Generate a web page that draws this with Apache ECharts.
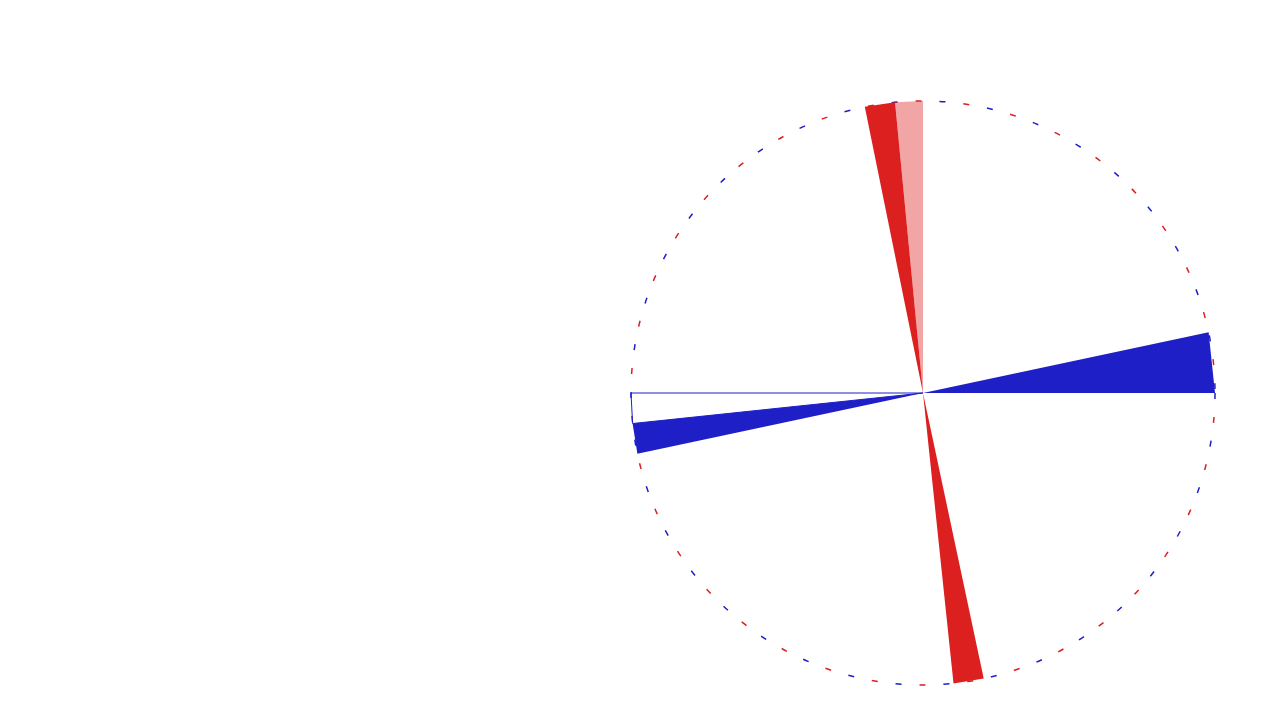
<!DOCTYPE html>
<html>
<head>
<meta charset="utf-8">
<title>polar wedges</title>
<script src="https://cdn.jsdelivr.net/npm/echarts@6/dist/echarts.min.js"></script>
<style>
    html, body { margin: 0; padding: 0; background: #fff; }
    #chart { width: 1279px; height: 720px; }
</style>
</head>
<body>
<div id="chart"></div>
<script>
// wedge angles in degrees (0 = east, counter-clockwise), [start, end]
const redWedges = [[95.5, 101.5], [276, 282]];
const blueWedges = [[0, 12], [186, 192]];
const redSpeckle = [[90, 95.5]];
const blueOutline = [[180, 186]];

const RED = '#dc1f1f';
const BLUE = '#1f1fc8';

document.addEventListener('DOMContentLoaded', function () {
    initializeChart();
    addResizeListener();
});

function initializeChart() {
    const chartDom = document.getElementById('chart');
    const chart = echarts.init(chartDom);
    chart.setOption(getChartOptions());
    window.wedgeChart = chart;
}

// draw a wedge from the pole out to the rim
function wedgeRenderer(fill, stroke, opacity) {
    return function (params, api) {
        const a1 = api.value(0);
        const a2 = api.value(1);
        const c = api.coord([0, a1]);
        const p1 = api.coord([1, a1]);
        const p2 = api.coord([1, a2]);
        return {
            type: 'polygon',
            shape: { points: [c, p1, p2] },
            style: {
                fill: fill,
                stroke: stroke,
                lineWidth: stroke ? 1 : 0,
                opacity: opacity
            }
        };
    };
}

function polarAxes(index, color, offset) {
    return {
        angleAxis: {
            polarIndex: index,
            type: 'value',
            min: 0,
            max: 360,
            startAngle: 0,
            clockwise: false,
            axisLine: {
                show: true,
                lineStyle: { color: color, width: 1.5, type: [6, 42], dashOffset: offset }
            },
            axisTick: { show: false },
            axisLabel: { show: false },
            splitLine: { show: false }
        },
        radiusAxis: {
            polarIndex: index,
            type: 'value',
            min: 0,
            max: 1,
            axisLine: { show: false },
            axisTick: { show: false },
            axisLabel: { show: false },
            splitLine: { show: false }
        }
    };
}

function getChartOptions() {
    const blueAxes = polarAxes(0, BLUE, 0);
    const redAxes = polarAxes(1, RED, 24);
    return {
        animation: false,
        polar: [
            { center: [923, 393], radius: 292 },
            { center: [923, 393], radius: 292 }
        ],
        angleAxis: [blueAxes.angleAxis, redAxes.angleAxis],
        radiusAxis: [blueAxes.radiusAxis, redAxes.radiusAxis],
        series: [
            {
                type: 'custom',
                coordinateSystem: 'polar',
                polarIndex: 0,
                renderItem: wedgeRenderer(RED, null, 0.4),
                data: redSpeckle
            },
            {
                type: 'custom',
                coordinateSystem: 'polar',
                polarIndex: 0,
                renderItem: wedgeRenderer('none', BLUE, 1),
                data: blueOutline
            },
            {
                type: 'custom',
                coordinateSystem: 'polar',
                polarIndex: 0,
                renderItem: wedgeRenderer(RED, null, 1),
                data: redWedges
            },
            {
                type: 'custom',
                coordinateSystem: 'polar',
                polarIndex: 0,
                renderItem: wedgeRenderer(BLUE, null, 1),
                data: blueWedges
            }
        ]
    };
}

function addResizeListener() {
    window.addEventListener('resize', function () {
        if (window.wedgeChart) {
            window.wedgeChart.resize();
        }
    });
}
</script>
</body>
</html>
